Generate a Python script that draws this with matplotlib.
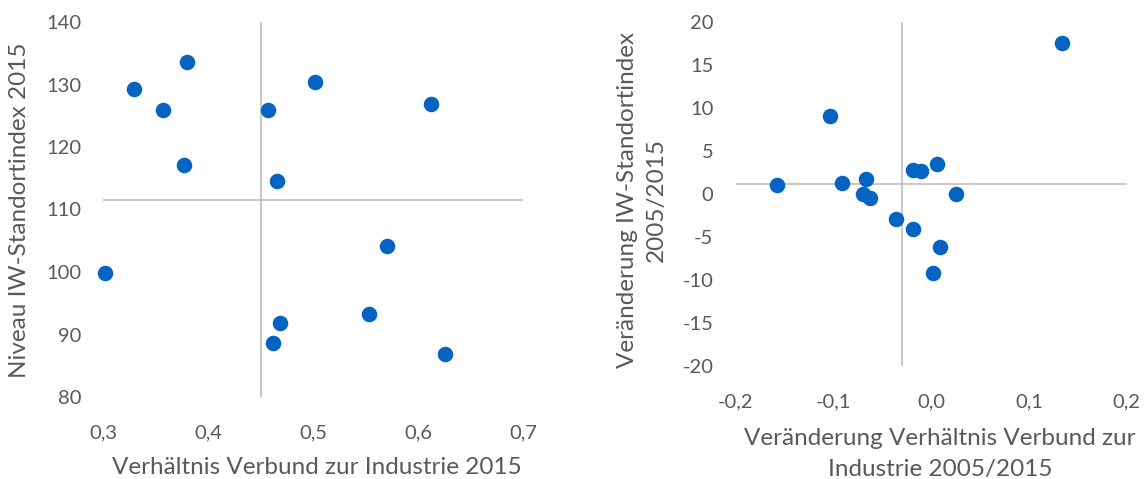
import matplotlib.pyplot as plt
from matplotlib.ticker import FuncFormatter

plt.rcParams['font.family'] = ['Lato', 'DejaVu Sans']
plt.rcParams['axes.unicode_minus'] = False

# --- Daten ---
# links: Niveau 2015
lvl_x = [0.302, 0.329, 0.357, 0.380, 0.377, 0.457, 0.502, 0.465, 0.612, 0.570, 0.468, 0.462, 0.553, 0.625]
lvl_y = [99.9, 129.3, 126.0, 133.6, 117.1, 126.0, 130.4, 114.5, 126.9, 104.2, 91.9, 88.7, 93.3, 86.9]
lvl_cross = (0.45, 111.6)   # Achsenkreuz

# rechts: Veraenderung 2005/2015
chg_x = [-0.158, -0.104, -0.091, -0.067, -0.070, -0.063, -0.036, -0.019, -0.010, 0.006, 0.025, -0.019, 0.009, 0.002, 0.134]
chg_y = [1.1, 9.1, 1.3, 1.8, 0.0, -0.5, -2.9, 2.8, 2.7, 3.5, 0.0, -4.1, -6.2, -9.2, 17.6]
chg_cross = (-0.03, 1.2)

lvl_xticks = [0.3, 0.4, 0.5, 0.6, 0.7]
lvl_yticks = [80, 90, 100, 110, 120, 130, 140]
chg_xticks = [-0.2, -0.1, 0.0, 0.1, 0.2]
chg_yticks = [-20, -15, -10, -5, 0, 5, 10, 15, 20]

BLUE = '#0563C1'
GRID = '#BFBFBF'
TXT = '#595959'
W, H = 1145, 479


def px_box(x0, x1, ytop, ybot):
    return [x0 / W, 1 - ybot / H, (x1 - x0) / W, (ybot - ytop) / H]


def comma(v, pos):
    return f"{v:.1f}".replace('.', ',').replace('-0,0', '0,0')


def style_axis(ax, xticks, yticks, cross):
    for s in ax.spines.values():
        s.set_visible(False)
    ax.set_xticks(xticks)
    ax.set_yticks(yticks)
    ax.set_xlim(xticks[0], xticks[-1])
    ax.set_ylim(yticks[0], yticks[-1])
    ax.xaxis.set_major_formatter(FuncFormatter(comma))
    ax.tick_params(length=0, labelsize=14.5, labelcolor=TXT)
    ax.tick_params(axis='x', pad=20)
    ax.tick_params(axis='y', pad=16)
    ax.axvline(cross[0], color=GRID, lw=1.2, zorder=1)
    ax.axhline(cross[1], color=GRID, lw=1.2, zorder=1)


fig = plt.figure(figsize=(W / 100, H / 100), dpi=100)

ax1 = fig.add_axes(px_box(103.3, 523.3, 22, 397))
ax1.scatter(lvl_x, lvl_y, s=125, color=BLUE, zorder=3, linewidths=0, clip_on=False)
style_axis(ax1, lvl_xticks, lvl_yticks, lvl_cross)

ax2 = fig.add_axes(px_box(735.7, 1126.7, 22, 366))
ax2.scatter(chg_x, chg_y, s=125, color=BLUE, zorder=3, linewidths=0, clip_on=False)
style_axis(ax2, chg_xticks, chg_yticks, chg_cross)

# Achsentitel
fig.text(317 / W, 1 - 467 / H, 'Verhältnis Verbund zur Industrie 2015',
         ha='center', va='center', fontsize=17.5, color=TXT)
fig.text(20 / W, 1 - 210 / H, 'Niveau IW-Standortindex 2015', rotation=90,
         ha='center', va='center', fontsize=17.5, color=TXT)
fig.text(642 / W, 1 - 200 / H, 'Veränderung IW-Standortindex\n2005/2015', rotation=90,
         ha='center', va='center', fontsize=17.5, color=TXT, linespacing=1.5)
fig.text(940 / W, 1 - 454 / H, 'Veränderung Verhältnis Verbund zur\nIndustrie 2005/2015',
         ha='center', va='center', fontsize=17.5, color=TXT, linespacing=1.6)

fig.savefig('out.png', dpi=100)
